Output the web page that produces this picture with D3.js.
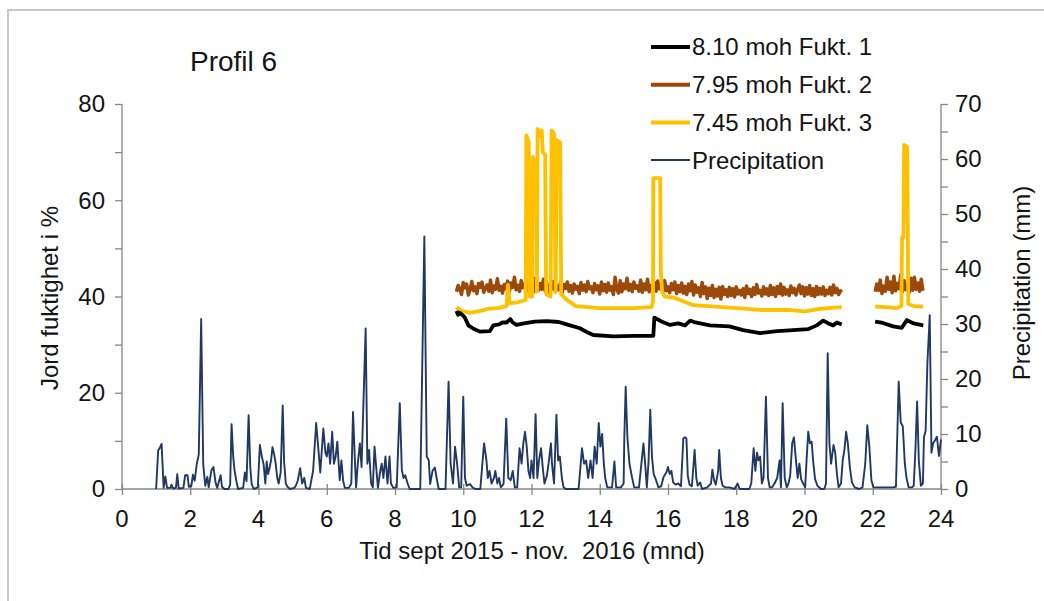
<!DOCTYPE html>
<html>
<head>
<meta charset="utf-8">
<script src="https://cdn.jsdelivr.net/npm/d3@7"></script>
<style>
  body { margin: 0; background: #fff; }
  svg text { font-family: "Liberation Sans", Arial, sans-serif; fill: #141414; }
</style>
</head>
<body>
<div id="chart"></div>
<script>
// month ticks along the bottom, moisture (%) left, precipitation (mm) right
var monthTicks = [0, 2, 4, 6, 8, 10, 12, 14, 16, 18, 20, 22, 24];
var moistTicks = [0, 20, 40, 60, 80];
var precipTicks = [0, 10, 20, 30, 40, 50, 60, 70];

// precipitation, [month, mm]
var precipitation = [
  [1.0, 0], [1.06, 7.0], [1.11, 7.5], [1.16, 8.2], [1.22, 0.2], [1.27, 2.3], [1.32, 0.2], [1.42, 0.2], [1.45, 0.8], [1.5, 0.1],
  [1.58, 0.2], [1.62, 2.7], [1.66, 0.1], [1.8, 0.2], [1.85, 2.5], [1.92, 2.5], [1.96, 0.4], [2.03, 0.5], [2.08, 2.6], [2.13, 1.5],
  [2.19, 4.5], [2.25, 6.3], [2.32, 30.9], [2.38, 4.5], [2.44, 0.6], [2.5, 2.2], [2.54, 0.3], [2.62, 3.4], [2.68, 4.0], [2.74, 1.2],
  [2.79, 0.2], [2.89, 2.5], [2.93, 0.4], [3.0, 0], [3.12, 0], [3.17, 0.8], [3.21, 11.8], [3.26, 5.8], [3.3, 3.3], [3.35, 1.5],
  [3.4, 0], [3.55, 0.2], [3.6, 3.0], [3.65, 1.4], [3.71, 13.4], [3.76, 3.8], [3.8, 0.9], [3.86, 0], [3.98, 0.3], [4.04, 8.0],
  [4.1, 5.8], [4.15, 4.5], [4.2, 1.0], [4.24, 5.0], [4.28, 2.7], [4.33, 4.0], [4.37, 5.3], [4.41, 7.6], [4.46, 6.3], [4.5, 4.8],
  [4.55, 2.0], [4.59, 1.0], [4.65, 3.0], [4.71, 15.2], [4.75, 5.0], [4.8, 1.0], [4.85, 0.4], [4.92, 0], [5.05, 0.2], [5.1, 0.7],
  [5.15, 1.5], [5.22, 3.8], [5.28, 1.0], [5.34, 2.0], [5.39, 0.2], [5.5, 0], [5.6, 3.3], [5.69, 12.0], [5.75, 7.6], [5.81, 3.0],
  [5.9, 11.0], [5.96, 6.6], [6.0, 5.9], [6.05, 8.3], [6.1, 4.6], [6.16, 10.4], [6.21, 4.6], [6.26, 5.9], [6.31, 8.6], [6.35, 4.5],
  [6.38, 1.6], [6.43, 5.2], [6.48, 1.5], [6.53, 0.2], [6.65, 0.2], [6.72, 1.0], [6.77, 14.0], [6.82, 5.9], [6.86, 0.3], [6.91, 4.6],
  [6.97, 8.3], [7.02, 4.0], [7.14, 29.2], [7.19, 4.6], [7.24, 7.1], [7.3, 1.0], [7.35, 0.3], [7.4, 7.7], [7.45, 3.9], [7.5, 0.2],
  [7.56, 3.0], [7.61, 4.6], [7.66, 2.0], [7.72, 5.9], [7.78, 1.0], [7.84, 5.9], [7.88, 1.0], [7.95, 0.2], [8.05, 0.3], [8.14, 15.6],
  [8.2, 3.5], [8.25, 2.0], [8.3, 2.5], [8.37, 1.0], [8.43, 0], [8.74, 0], [8.86, 45.9], [8.93, 5.9], [8.99, 5.2], [9.03, 0.9],
  [9.1, 3.3], [9.17, 3.9], [9.22, 2.0], [9.28, 0], [9.48, 0], [9.57, 19.5], [9.63, 4.6], [9.7, 1.0], [9.76, 7.7], [9.82, 4.6],
  [9.88, 0.3], [9.94, 0.3], [10.0, 16.8], [10.05, 2.0], [10.1, 0.6], [10.2, 0.9], [10.27, 0.3], [10.35, 0], [10.5, 0], [10.61, 8.3],
  [10.68, 5.2], [10.72, 2.0], [10.77, 3.3], [10.83, 1.0], [10.9, 2.0], [10.94, 3.3], [11.0, 1.0], [11.05, 2.0], [11.1, 0.3], [11.18, 0.9],
  [11.26, 12.8], [11.32, 2.0], [11.39, 1.6], [11.45, 3.3], [11.51, 0.3], [11.58, 0.3], [11.65, 7.4], [11.71, 4.6], [11.76, 8.3], [11.81, 10.4],
  [11.86, 7.7], [11.91, 3.3], [11.96, 2.0], [12.0, 5.2], [12.06, 2.0], [12.12, 13.6], [12.17, 2.0], [12.22, 5.2], [12.28, 7.4], [12.33, 3.9],
  [12.38, 1.0], [12.45, 2.4], [12.5, 4.6], [12.57, 8.3], [12.6, 4.6], [12.66, 1.0], [12.73, 13.5], [12.78, 5.2], [12.83, 5.9], [12.89, 2.0],
  [12.94, 0.3], [13.0, 0], [13.38, 0], [13.48, 7.4], [13.54, 4.6], [13.6, 5.2], [13.66, 2.0], [13.73, 5.2], [13.79, 2.0], [13.85, 7.7],
  [13.91, 4.6], [13.97, 12.0], [14.02, 7.7], [14.07, 10.0], [14.12, 4.6], [14.16, 2.0], [14.22, 0.3], [14.36, 0.3], [14.43, 5.0], [14.48, 0.3],
  [14.62, 0.3], [14.7, 1.0], [14.72, 9.4], [14.76, 18.6], [14.81, 9.4], [14.87, 4.6], [14.95, 2.0], [15.01, 0.3], [15.15, 0.3], [15.28, 8.3],
  [15.33, 4.6], [15.38, 0.3], [15.43, 5.0], [15.48, 14.4], [15.53, 5.9], [15.58, 2.7], [15.65, 1.6], [15.72, 0.3], [15.8, 0.5], [15.87, 2.2],
  [15.95, 3.0], [16.0, 4.0], [16.05, 2.7], [16.1, 3.3], [16.15, 1.2], [16.22, 0.8], [16.3, 1.0], [16.38, 0.5], [16.45, 9.2], [16.5, 9.4],
  [16.54, 9.2], [16.58, 2.4], [16.63, 0.8], [16.7, 0.5], [16.78, 7.1], [16.83, 2.0], [16.87, 0.6], [16.94, 1.2], [17.0, 0], [17.15, 0.3],
  [17.26, 1.0], [17.3, 3.5], [17.35, 1.6], [17.4, 0.8], [17.47, 3.3], [17.5, 7.1], [17.55, 2.0], [17.6, 0.6], [17.68, 0.3], [17.8, 0.3],
  [17.95, 0], [18.04, 1.0], [18.1, 0], [18.38, 0], [18.44, 1.0], [18.51, 7.4], [18.56, 3.3], [18.61, 6.6], [18.65, 5.2], [18.7, 5.9],
  [18.75, 1.0], [18.8, 2.0], [18.87, 16.8], [18.93, 2.0], [18.98, 0.3], [19.05, 0.3], [19.12, 1.0], [19.2, 2.0], [19.27, 5.2], [19.31, 0.3],
  [19.36, 15.6], [19.42, 2.0], [19.48, 0.3], [19.53, 1.0], [19.58, 2.4], [19.64, 8.3], [19.69, 9.4], [19.74, 5.9], [19.8, 2.0], [19.85, 4.6],
  [19.9, 1.8], [19.96, 1.0], [20.02, 0.3], [20.06, 5.2], [20.11, 10.4], [20.16, 8.3], [20.21, 8.6], [20.26, 4.6], [20.31, 1.8], [20.38, 0.6],
  [20.48, 0], [20.58, 0], [20.63, 1.0], [20.68, 24.7], [20.73, 8.3], [20.78, 4.6], [20.85, 8.0], [20.9, 6.6], [20.95, 2.7], [21.0, 0.3],
  [21.07, 1.0], [21.12, 5.2], [21.17, 7.1], [21.22, 10.4], [21.27, 8.3], [21.33, 3.9], [21.39, 1.2], [21.47, 0.3], [21.6, 0], [21.7, 0.3],
  [21.78, 4.6], [21.84, 11.6], [21.9, 7.7], [21.96, 1.6], [22.02, 0.3], [22.2, 0.3], [22.4, 0.3], [22.6, 0.3], [22.68, 0.4], [22.76, 19.5],
  [22.82, 12.1], [22.88, 11.4], [22.94, 4.6], [22.99, 2.0], [23.05, 0.3], [23.15, 0.3], [23.2, 0.6], [23.25, 7.1], [23.3, 15.9], [23.35, 5.2],
  [23.41, 0.6], [23.47, 1.0], [23.5, 9.4], [23.55, 10.6], [23.6, 22.7], [23.67, 31.6], [23.72, 6.6], [23.77, 8.3], [23.82, 8.8], [23.88, 9.5],
  [23.94, 6.0], [24.0, 9.0]
];

// soil moisture 8.10 moh (Fukt. 1), [month, %], two logging periods
var fukt1a = [
  [9.8, 37.0], [9.85, 36.2], [9.9, 36.6], [10.0, 36.0], [10.05, 35.6], [10.15, 34.0], [10.3, 33.3], [10.49, 32.7], [10.78, 32.8], [10.88, 34.0],
  [11.05, 34.2], [11.15, 34.6], [11.27, 34.6], [11.38, 35.3], [11.45, 34.6], [11.56, 34.1], [11.7, 34.3], [11.86, 34.5], [12.1, 34.8], [12.45, 34.9],
  [12.8, 34.7], [13.03, 34.2], [13.42, 33.4], [13.65, 32.5], [13.81, 32.0], [14.4, 31.7], [15.0, 31.8], [15.57, 31.8], [15.6, 35.6], [15.81, 34.8],
  [16.06, 34.1], [16.3, 34.4], [16.5, 34.0], [16.65, 35.0], [16.8, 34.6], [17.23, 34.0], [17.8, 33.8], [18.2, 33.0], [18.7, 32.4], [19.2, 32.8],
  [19.67, 33.0], [20.1, 33.2], [20.36, 34.0], [20.55, 35.0], [20.7, 34.4], [20.84, 34.0], [20.95, 34.6], [21.09, 34.2]
];
var fukt1b = [
  [22.07, 34.8], [22.3, 34.5], [22.6, 33.8], [22.85, 33.5], [23.0, 35.1], [23.2, 34.4], [23.48, 34.0]
];

// soil moisture 7.95 moh (Fukt. 2), one reading per 0.05 month
var fukt2aStart = 9.8;
var fukt2a = [
  41.0, 42.3, 41.6, 40.4, 42.9, 41.8, 42.6, 40.3, 41.4, 43.1, 41.2, 42.0, 40.6, 42.7, 41.9, 43.0, 40.9, 41.7, 42.4, 41.1,
  43.4, 40.8, 42.2, 41.5, 43.7, 41.3, 42.1, 40.7, 42.5, 41.6, 43.2, 41.0, 42.8, 41.9, 44.0, 41.4, 42.3, 41.1, 43.3, 41.8,
  42.6, 41.2, 43.5, 41.7, 42.9, 40.9, 43.8, 42.0, 41.3, 42.7, 41.5, 43.6, 41.2, 42.4, 40.9, 42.8, 41.6, 43.1, 41.0, 42.2,
  41.4, 42.9, 40.8, 42.5, 41.7, 43.0, 41.1, 42.3, 40.7, 42.6, 41.5, 42.1, 40.6, 42.9, 41.3, 42.4, 41.0, 43.1, 41.6, 42.0,
  40.8, 42.7, 41.4, 42.2, 40.5, 43.0, 41.2, 42.5, 40.9, 42.8, 41.3, 42.0, 40.4, 44.0, 41.5, 40.7, 43.3, 41.0, 42.6, 41.6,
  43.8, 41.3, 42.5, 41.0, 43.0, 41.7, 42.2, 41.1, 43.4, 40.9, 42.6, 41.4, 43.6, 41.0, 42.3, 41.5, 42.9, 41.1, 43.2, 41.6,
  42.4, 40.9, 43.3, 41.2, 42.0, 40.8, 42.7, 41.4, 43.0, 40.6, 42.3, 41.0, 42.8, 40.7, 42.1, 40.4, 42.6, 41.2, 43.1, 40.3,
  42.4, 40.9, 41.8, 40.0, 42.9, 40.6, 42.0, 39.6, 41.7, 40.2, 42.3, 39.8, 41.5, 40.1, 41.9, 39.5, 42.1, 40.4, 41.4, 40.0,
  41.9, 40.2, 41.6, 39.9, 42.0, 40.5, 41.3, 40.3, 41.6, 39.8, 42.2, 40.6, 41.5, 40.0, 41.8, 40.4, 42.5, 40.7, 41.3, 40.1,
  42.0, 40.5, 41.6, 40.2, 42.3, 40.4, 41.8, 40.0, 42.1, 40.6, 42.6, 40.3, 41.9, 40.5, 41.4, 40.2, 42.2, 40.8, 41.7, 40.3,
  41.5, 42.4, 40.6, 42.0, 40.1, 41.8, 40.5, 42.3, 40.2, 41.6, 40.0, 42.1, 40.4, 41.7, 40.5, 42.0, 40.2, 41.3, 40.6, 41.9,
  40.3, 42.4, 40.8, 41.7, 40.4, 41.2, 40.9
];
var fukt2bStart = 22.07;
var fukt2b = [
  41.0, 42.6, 41.3, 43.4, 40.6, 42.2, 41.1, 44.0, 41.5, 43.0, 40.8, 44.2, 41.2, 42.7, 41.6,
  44.5, 41.0, 43.3, 41.4, 42.5, 40.9, 43.8, 41.3, 44.0, 41.5, 42.8, 41.1, 43.6, 41.2
];

// soil moisture 7.45 moh (Fukt. 3), [month, %]
var fukt3a = [
  [9.8, 37.2], [9.85, 37.6], [9.95, 37.0], [10.2, 36.6], [10.5, 37.0], [10.78, 37.5], [11.0, 37.6], [11.27, 38.0], [11.31, 42.4], [11.36, 38.6],
  [11.6, 38.8], [11.83, 39.3], [11.85, 73.5], [11.92, 72.0], [11.95, 40.0], [12.02, 40.0], [12.04, 69.0], [12.1, 67.0], [12.14, 68.0], [12.16, 41.0],
  [12.18, 74.8], [12.25, 73.5], [12.3, 74.5], [12.33, 70.0], [12.4, 69.5], [12.43, 40.5], [12.56, 40.0], [12.59, 74.5], [12.66, 73.8], [12.71, 41.0],
  [12.74, 72.5], [12.84, 72.0], [12.87, 40.5], [13.0, 39.5], [13.3, 38.0], [14.0, 37.6], [15.0, 37.6], [15.52, 37.8], [15.56, 39.0], [15.57, 64.6],
  [15.77, 64.6], [15.79, 45.0], [15.83, 41.0], [15.9, 40.0], [16.2, 39.7], [16.74, 38.2], [17.2, 38.0], [18.0, 37.6], [18.7, 37.2], [19.5, 37.2],
  [20.0, 36.9], [20.4, 37.4], [20.7, 37.6], [21.09, 37.8]
];
var fukt3b = [
  [22.07, 37.9], [22.4, 37.8], [22.72, 37.6], [22.84, 38.0], [22.86, 52.4], [22.9, 52.4], [22.92, 71.5], [23.01, 71.0], [23.04, 38.5], [23.2, 38.0],
  [23.48, 37.9]
];

var legendLabels = ["8.10 moh Fukt. 1", "7.95 moh Fukt. 2", "7.45 moh Fukt. 3", "Precipitation"];
var colors = ["#000000", "#9c4a0c", "#ffc000", "#1f3864"];

var W = 1044, H = 601;
var svg = d3.select("#chart").append("svg").attr("width", W).attr("height", H);

// light grey frame around the chart area
svg.append("path")
  .attr("d", "M8," + (H + 2) + "V10H" + (W + 2))
  .attr("fill", "none").attr("stroke", "#c8c8c8").attr("stroke-width", 2);

var x = d3.scaleLinear().domain([0, 24]).range([122, 941]);
var yL = d3.scaleLinear().domain([0, 80]).range([489, 104]);
var yR = d3.scaleLinear().domain([0, 70]).range([489, 104]);

var axisColor = "#868686";
var fs = 24;

// left axis
var gl = svg.append("g").attr("transform", "translate(122,0)")
  .call(d3.axisLeft(yL).tickValues(d3.range(0, 81, 10)).tickSize(7).tickFormat(""));
gl.selectAll("path, line").attr("stroke", axisColor).attr("stroke-width", 1.3);
gl.select(".domain").attr("d", "M0," + yL(0) + "V" + yL(80));
svg.selectAll(".ltick").data(moistTicks).enter().append("text")
  .attr("x", 105).attr("y", function(d) { return yL(d); }).attr("dy", "0.35em")
  .attr("text-anchor", "end").attr("font-size", fs).text(function(d) { return d; });

// right axis
var gr = svg.append("g").attr("transform", "translate(941,0)")
  .call(d3.axisRight(yR).tickValues(d3.range(0, 71, 5)).tickSize(7).tickFormat(""));
gr.selectAll("path, line").attr("stroke", axisColor).attr("stroke-width", 1.3);
gr.select(".domain").attr("d", "M0," + yR(0) + "V" + yR(70));
svg.selectAll(".rtick").data(precipTicks).enter().append("text")
  .attr("x", 955).attr("y", function(d) { return yR(d); }).attr("dy", "0.35em")
  .attr("font-size", fs).text(function(d) { return d; });

// bottom axis, ticks cross the line
var gx = svg.append("g").attr("transform", "translate(0,489)")
  .call(d3.axisBottom(x).tickValues(monthTicks).tickSize(6).tickFormat(""));
gx.selectAll("path, line").attr("stroke", axisColor).attr("stroke-width", 1.3);
gx.select(".domain").attr("d", "M" + x(0) + ",0H" + x(24));
gx.selectAll(".tick line").attr("y1", -5);
svg.selectAll(".xtick").data(monthTicks).enter().append("text")
  .attr("x", function(d) { return x(d); }).attr("y", 527)
  .attr("text-anchor", "middle").attr("font-size", fs).text(function(d) { return d; });

// titles
svg.append("text").attr("x", 190).attr("y", 71).attr("font-size", 28).text("Profil 6");
svg.append("text").attr("x", 532).attr("y", 559).attr("text-anchor", "middle")
  .attr("font-size", fs).text("Tid sept 2015 - nov.\u00a0 2016 (mnd)");
svg.append("text").attr("transform", "translate(58,298) rotate(-90)")
  .attr("text-anchor", "middle").attr("font-size", fs).text("Jord fuktighet i %");
svg.append("text").attr("transform", "translate(1030,283) rotate(-90)")
  .attr("text-anchor", "middle").attr("font-size", fs).text("Precipitation (mm)");

// precipitation line on the right scale
var precipLine = d3.line().x(function(d) { return x(d[0]); }).y(function(d) { return yR(d[1]); });
svg.append("path").datum(precipitation)
  .attr("d", precipLine).attr("fill", "none")
  .attr("stroke", colors[3]).attr("stroke-width", 1.9).attr("stroke-linejoin", "round");

// moisture lines on the left scale
var moistLine = d3.line().x(function(d) { return x(d[0]); }).y(function(d) { return yL(d[1]); });
function stepped(start, vals) {
  return vals.map(function(v, i) { return [start + i * 0.05, v]; });
}
var moistSeries = [
  { segs: [stepped(fukt2aStart, fukt2a), stepped(fukt2bStart, fukt2b)], color: colors[1], w: 3.5 },
  { segs: [fukt3a, fukt3b], color: colors[2], w: 3.8 },
  { segs: [fukt1a, fukt1b], color: colors[0], w: 3.8 }
];
moistSeries.forEach(function(s) {
  s.segs.forEach(function(seg) {
    svg.append("path").datum(seg)
      .attr("d", moistLine).attr("fill", "none")
      .attr("stroke", s.color).attr("stroke-width", s.w).attr("stroke-linejoin", "round");
  });
});

// legend
var lg = svg.append("g");
legendLabels.forEach(function(lab, i) {
  var yy = 47 + i * 37.7;
  lg.append("line").attr("x1", 651).attr("x2", 690).attr("y1", yy).attr("y2", yy)
    .attr("stroke", colors[i]).attr("stroke-width", i < 3 ? 4 : 2);
  lg.append("text").attr("x", 692).attr("y", yy).attr("dy", "0.35em")
    .attr("font-size", fs).text(lab);
});
</script>
</body>
</html>
